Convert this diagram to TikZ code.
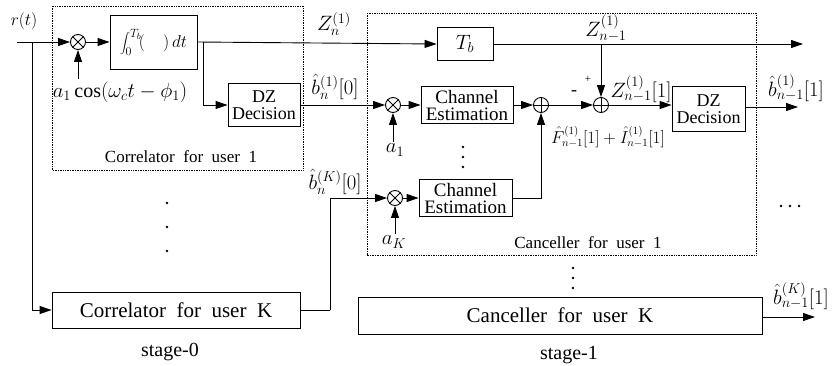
\documentclass[tikz,border=0pt]{standalone}
\usepackage{fontspec}
\setmainfont{Liberation Serif}
\usetikzlibrary{arrows.meta,positioning}
\begin{document}
\begin{tikzpicture}[x=1pt,y=-1pt,
  arr/.style={-{Triangle[length=12pt,width=8pt]}},
  line/.style={line width=0.9pt},
  blk/.style={draw,line width=0.9pt,inner sep=0pt,align=center,font=\fontsize{19}{17}\selectfont},
  opn/.style={circle,draw,line width=0.9pt,minimum size=15pt,inner sep=0pt},
  dotbox/.style={draw,densely dotted,line width=0.7pt},
  lab/.style={font=\fontsize{20}{20}\selectfont,inner sep=1pt},
  smlab/.style={font=\fontsize{18}{18}\selectfont},
  framelab/.style={font=\fontsize{17}{18}\selectfont},
  big/.style={font=\fontsize{20}{20}\selectfont},
  dotn/.style={circle,fill,inner sep=0pt,minimum size=2.6pt}]
\useasboundingbox (0,0) rectangle (836,365);
% dotted frames
\draw[dotbox] (52,6) rectangle (303,170);
\draw[dotbox] (367,13) rectangle (756,255);
% stage-0 nodes
\node[smlab] (rtl) at (24,21) {$r(t)$};
\coordinate (in0) at (17,42);
\coordinate (br0) at (32,42);
\node[opn] (m1) at (78,42) {};
\draw[line width=0.9pt] (m1.45)--(m1.225) (m1.135)--(m1.315);
\node[lab] (a1l) at (120,92) {$a_1\cos(\omega_c t-\phi_1)$};
\node[blk,minimum width=87pt,minimum height=54pt,font=\fontsize{18}{18}\selectfont] (int) at (153.5,42) {$\displaystyle\int_0^{T_b}\!(\quad)\,dt$};
\coordinate (br1) at (203,42);
\node[blk,minimum width=72pt,minimum height=43pt,font=\fontsize{18}{17}\selectfont] (dz1) at (264,105) {DZ\\Decision};
\node[lab] (zn) at (334,24) {$Z_n^{(1)}$};
\node[lab] (b0l) at (335,87) {$\hat{b}_n^{(1)}[0]$};
\node[framelab] (c1l) at (181,157) {Correlator\ \ for\ \ user\ \ 1};
\node[blk,minimum width=248pt,minimum height=36pt,font=\fontsize{21}{21}\selectfont] (corK) at (176,310) {Correlator\ \ for\ \ user\ \ K};
\node[big] (st0) at (170,352) {stage-0};
\node[dotn] (d01) at (167,203) {};
\node[dotn] (d02) at (167,227) {};
\node[dotn] (d03) at (167,251) {};
\coordinate (kc) at (330,310);
\node[lab] (bKl) at (335,182) {$\hat{b}_n^{(K)}[0]$};
% stage-1 nodes
\node[blk,minimum width=56pt,minimum height=33pt,font=\fontsize{20}{20}\selectfont] (tb) at (465,44) {$T_b$};
\node[opn] (m2) at (393,105) {};
\draw[line width=0.9pt] (m2.45)--(m2.225) (m2.135)--(m2.315);
\node[lab] (a1k) at (395,150) {$a_1$};
\node[blk,minimum width=92pt,minimum height=37pt] (ce1) at (467,105) {Channel\\Estimation};
\node[opn] (ad1) at (541,105) {};
\draw[line width=0.9pt] (ad1.north)--(ad1.south) (ad1.east)--(ad1.west);
\node[opn] (ad2) at (601,105) {};
\draw[line width=0.9pt] (ad2.north)--(ad2.south) (ad2.east)--(ad2.west);
\node[smlab] (minus) at (574,93) {-};
\node[font=\fontsize{11}{11}\selectfont] (plus) at (588,79) {+};
\coordinate (br2) at (601,44);
\coordinate (out1) at (803,44);
\node[lab] (zn1) at (606,28) {$Z_{n-1}^{(1)}$};
\node[blk,minimum width=73pt,minimum height=45pt,font=\fontsize{18}{17}\selectfont] (dz2) at (708.5,109) {DZ\\Decision};
\node[lab] (z1l) at (641,89) {$Z_{n-1}^{(1)}[1]$};
\node[font=\fontsize{16}{16}\selectfont] (fil) at (608,137) {$\hat{F}_{n-1}^{(1)}[1]+\hat{I}_{n-1}^{(1)}[1]$};
\coordinate (out2) at (798,107);
\node[lab] (b1l) at (796,88) {$\hat{b}_{n-1}^{(1)}[1]$};
\node[dotn] (d11) at (463,147) {};
\node[dotn] (d12) at (463,157) {};
\node[dotn] (d13) at (463,167) {};
\node[opn] (m3) at (395,198) {};
\draw[line width=0.9pt] (m3.45)--(m3.225) (m3.135)--(m3.315);
\node[lab] (aKk) at (394,242) {$a_K$};
\node[blk,minimum width=93pt,minimum height=37pt] (ce2) at (465.5,198) {Channel\\Estimation};
\node[framelab] (c2l) at (588,243) {Canceller\ \ for\ \ user\ \ 1};
\node[dotn] (h1) at (781,206) {};
\node[dotn] (h2) at (790,206) {};
\node[dotn] (h3) at (799,206) {};
\node[dotn] (d21) at (573,268) {};
\node[dotn] (d22) at (573,278) {};
\node[dotn] (d23) at (573,288) {};
\node[blk,minimum width=404pt,minimum height=37pt,font=\fontsize{21}{21}\selectfont] (canK) at (560,315.5) {Canceller\ \ for\ \ user\ \ K};
\coordinate (out3) at (815,317);
\node[lab] (bK1l) at (801,296) {$\hat{b}_{n-1}^{(K)}[1]$};
\node[big] (st1) at (569,355) {stage-1};
% connectors
\draw[line,arr] (in0) -- (m1);
\draw[line,arr] (br0) |- (corK.west);
\draw[line,arr] ([yshift=1pt]a1l.north -| m1) -- (m1.south);
\draw[line,arr] (m1) -- (int.west);
\draw[line,arr] (int.east) -- (tb.west);
\draw[line,arr] (br1) |- (dz1.west);
\draw[line,arr] (dz1.east) -- (m2.west);
\draw[line,arr] ([yshift=1pt]a1k.north -| m2) -- (m2.south);
\draw[line,arr] (m2) -- (ce1.west);
\draw[line,arr] (ce1.east) -- (ad1.west);
\draw[line,arr] (ad1) -- (ad2.west);
\draw[line,arr] (tb.east) -- (out1);
\draw[line,arr] (br2) -- (ad2.north);
\draw[line,arr] (ad2) -- (ad2.east -| dz2.west);
\draw[line,arr] (dz2.east |- out2) -- (out2);
\draw[line] (corK.east) -- (kc);
\draw[line,arr] (kc) |- (m3.west);
\draw[line,arr] ([yshift=1pt]aKk.north -| m3) -- (m3.south);
\draw[line,arr] (m3) -- (ce2.west);
\draw[line,arr] (ce2.east) -| (ad1.south);
\draw[line,arr] (canK.east |- out3) -- (out3);
\end{tikzpicture}
\end{document}
